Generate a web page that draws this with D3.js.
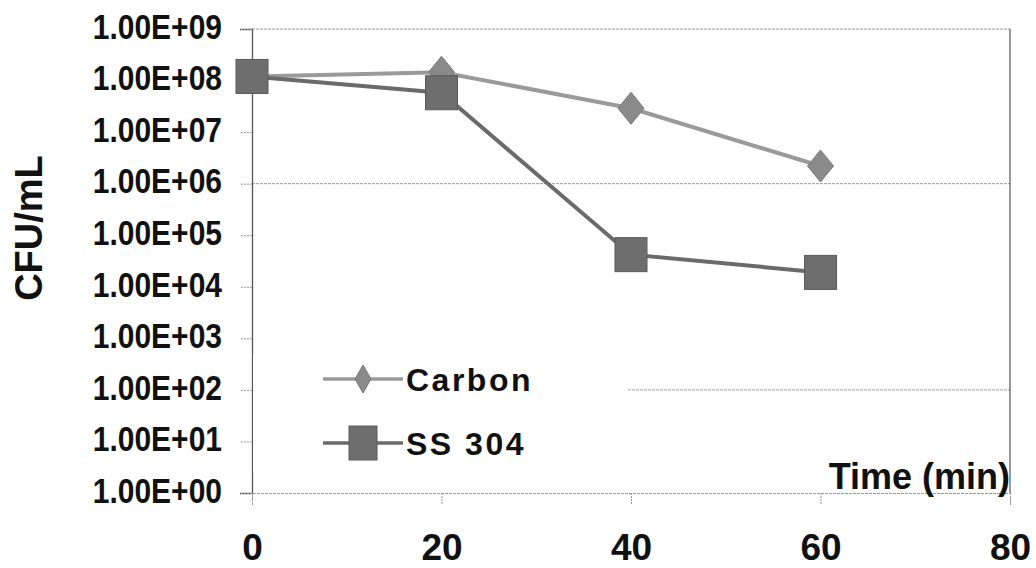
<!DOCTYPE html>
<html>
<head>
<meta charset="utf-8">
<script src="https://cdn.jsdelivr.net/npm/d3@7"></script>
<style>
  html, body { margin: 0; padding: 0; background: #fff; }
  svg { display: block; }
  text { font-family: Arial, "Liberation Sans", sans-serif; font-weight: bold; fill: #111; }
</style>
</head>
<body>
<svg id="chart" width="1036" height="568"></svg>
<script>
// ---- data ----
const times = [0, 20, 40, 60];
const carbon = [1.2e8, 1.45e8, 2.9e7, 2.2e6];
const ss304 = [1.2e8, 5.8e7, 4.2e4, 1.9e4];
const seriesNames = ["Carbon", "SS 304"];
const xTicks = [0, 20, 40, 60, 80];
const yTickValues = [1e0, 1e1, 1e2, 1e3, 1e4, 1e5, 1e6, 1e7, 1e8, 1e9];
const yTickLabels = ["1.00E+00", "1.00E+01", "1.00E+02", "1.00E+03", "1.00E+04",
                     "1.00E+05", "1.00E+06", "1.00E+07", "1.00E+08", "1.00E+09"];
const gridValues = [1e6, 1e2];
const xTitle = "Time (min)";
const yTitle = "CFU/mL";

// ---- layout ----
const W = 1036, H = 568;
const m = { left: 252, right: 26, top: 29, bottom: 75 };
const iw = W - m.left - m.right, ih = H - m.top - m.bottom;

const svg = d3.select("#chart");
svg.append("rect").attr("width", W).attr("height", H).attr("fill", "#fff");
const g = svg.append("g").attr("transform", `translate(${m.left},${m.top})`);

const x = d3.scaleLinear().domain([0, 80]).range([0, iw]);
const y = d3.scaleLog().domain([1, 1e9]).range([ih, 0]);

const gridColor = "#9a9a9a";
const gridDash = "3,1";

// gridlines
g.selectAll("line.grid").data(gridValues).join("line")
  .attr("class", "grid")
  .attr("x1", 0).attr("x2", iw)
  .attr("y1", d => y(d)).attr("y2", d => y(d))
  .attr("stroke", gridColor).attr("stroke-width", 1).attr("stroke-dasharray", gridDash);

// top border (dotted) and right border (solid)
g.append("line").attr("x1", 0).attr("x2", iw).attr("y1", 0).attr("y2", 0)
  .attr("stroke", gridColor).attr("stroke-dasharray", gridDash);
g.append("line").attr("x1", iw).attr("x2", iw).attr("y1", 0).attr("y2", ih)
  .attr("stroke", "#555").attr("stroke-width", 1.2);

// y axis
const yAxis = d3.axisLeft(y)
  .tickValues(yTickValues)
  .tickFormat((d, i) => yTickLabels[i])
  .tickSize(12).tickPadding(18);
const gy = g.append("g").call(yAxis);
gy.select(".domain").attr("stroke", "#555").attr("stroke-width", 1.3);
gy.selectAll(".tick line").attr("stroke", gridColor).attr("stroke-dasharray", "2,1");
gy.selectAll(".tick text")
  .attr("font-size", 30).attr("font-family", "Arial, 'Liberation Sans', sans-serif")
  .attr("font-weight", "bold").attr("fill", "#111")
  .attr("dy", "0.27em").attr("transform", "scale(1,1.15)");

// x axis
const xAxis = d3.axisBottom(x).tickValues(xTicks).tickSize(12).tickPadding(29);
const gx = g.append("g").attr("transform", `translate(0,${ih})`).call(xAxis);
gx.select(".domain").attr("stroke", gridColor).attr("stroke-dasharray", gridDash);
gx.selectAll(".tick line").attr("stroke", gridColor).attr("stroke-dasharray", "2,1");
gx.selectAll(".tick text")
  .attr("font-size", 37).attr("font-family", "Arial, 'Liberation Sans', sans-serif")
  .attr("font-weight", "bold").attr("fill", "#111");

// legend (white box hides gridline behind it)
const lg = g.append("g").attr("transform", `translate(0,${ih - 138})`);
lg.append("rect").attr("x", 1).attr("y", 0).attr("width", x(40) - 4).attr("height", 118).attr("fill", "#fff");

// axis titles
g.append("text").attr("x", iw).attr("y", ih - 4)
  .attr("text-anchor", "end").attr("font-size", 36).text(xTitle);
svg.append("text").attr("transform", `translate(42,${m.top + 199}) rotate(-90)`)
  .attr("text-anchor", "middle").attr("font-size", 38).text(yTitle);

// series
const data = [
  { name: seriesNames[0], values: carbon, line: "#9a9a9a", fill: "#8a8a8a", shape: "diamond" },
  { name: seriesNames[1], values: ss304, line: "#6a6a6a", fill: "#6e6e6e", shape: "square" }
];
const lineGen = d3.line().x((d, i) => x(times[i])).y(d => y(d));

function marker(sel, shape, w, h, fill) {
  if (shape === "diamond") {
    sel.append("path")
      .attr("d", `M0,${-h/2}L${w/2},0L0,${h/2}L${-w/2},0Z`)
      .attr("fill", fill).attr("stroke", "#7a7a7a").attr("stroke-width", 1);
  } else {
    sel.append("rect").attr("x", -w/2).attr("y", -h/2).attr("width", w).attr("height", h)
      .attr("fill", fill).attr("stroke", "#5a5a5a").attr("stroke-width", 1);
  }
}

data.forEach(s => {
  const sg = g.append("g");
  sg.append("path").datum(s.values).attr("d", lineGen)
    .attr("fill", "none").attr("stroke", s.line).attr("stroke-width", 4);
  s.values.forEach((v, i) => {
    const mg = sg.append("g").attr("transform", `translate(${x(times[i])},${y(v)})`);
    if (s.shape === "diamond") marker(mg, "diamond", 26, 32, s.fill);
    else marker(mg, "square", 32, 34, s.fill);
  });
});

// legend entries
data.forEach((s, i) => {
  const ey = 24 + i * 64;
  const eg = lg.append("g").attr("transform", `translate(71,${ey})`);
  eg.append("line").attr("x1", 0).attr("x2", 80).attr("y1", 0).attr("y2", 0)
    .attr("stroke", s.line).attr("stroke-width", 3.5);
  const mk = eg.append("g").attr("transform", "translate(40,0)");
  if (s.shape === "diamond") marker(mk, "diamond", 16, 28, s.fill);
  else marker(mk, "square", 28, 34, s.fill);
  eg.append("text").attr("x", 83).attr("y", 0).attr("dy", "0.36em")
    .attr("font-size", 32).attr("letter-spacing", 2.5).text(s.name);
});
</script>
</body>
</html>
